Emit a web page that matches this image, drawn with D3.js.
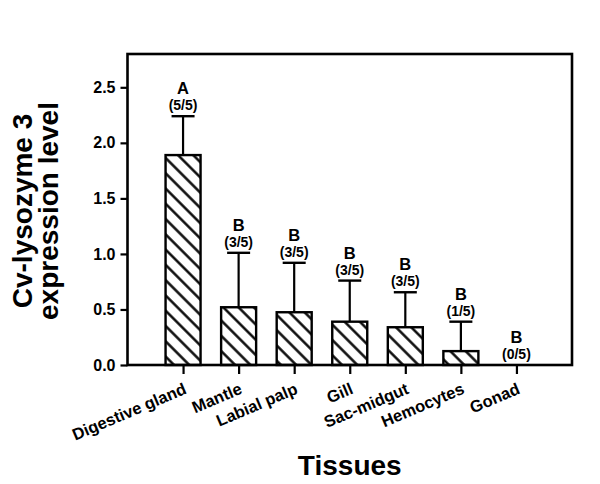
<!DOCTYPE html>
<html lang='en'>
<head>
  <meta charset='UTF-8'>
  <title>Cv-lysozyme 3 expression</title>
  <script src='https://d3js.org/d3.v7.min.js'></script>
  <style>
    body { margin: 0; background: #fff; }
    svg { display: block; font-family: Arial, 'Liberation Sans', sans-serif; font-weight: bold; }
  </style>
</head>
<body>
<svg width='600' height='484'></svg>
<script>
// values
const tissues = ['Digestive gland', 'Mantle', 'Labial palp', 'Gill', 'Sac-midgut', 'Hemocytes', 'Gonad']
const means = [1.89, 0.52, 0.475, 0.39, 0.34, 0.125, 0]
const errTop = [2.24, 1.01, 0.92, 0.76, 0.655, 0.39, 0]
const groups = ['A', 'B', 'B', 'B', 'B', 'B', 'B']
const counts = ['(5/5)', '(3/5)', '(3/5)', '(3/5)', '(3/5)', '(1/5)', '(0/5)']
const yTicks = [0, 0.5, 1.0, 1.5, 2.0, 2.5]

const rows = tissues.map((t, i) => ({ t, m: means[i], e: errTop[i], g: groups[i], c: counts[i] }))

const svg = d3.select('svg')
const L = 127.5, R = 572, T = 54, B = 365

const x = d3.scalePoint().domain(tissues).range([L, R]).padding(1)
const y = d3.scaleLinear().domain([0, 2.8]).range([B, T])
const barW = 35
const hs = 10.8 // hatch spacing

// hatch fill, lines running top-left to bottom-right
svg.append('defs').append('pattern')
    .attr('id', 'hatch')
    .attr('patternUnits', 'userSpaceOnUse')
    .attr('width', hs).attr('height', hs)
    .attr('patternTransform', 'rotate(-45)')
  .append('line')
    .attr('x1', hs / 2).attr('y1', 0).attr('x2', hs / 2).attr('y2', hs)
    .attr('stroke', '#000').attr('stroke-width', 2.4)

// error bars (upper only)
const eb = svg.append('g').selectAll('g').data(rows.filter(d => d.e > d.m)).enter().append('g')
eb.append('line')
    .attr('x1', d => x(d.t)).attr('x2', d => x(d.t))
    .attr('y1', d => y(d.m)).attr('y2', d => y(d.e))
    .attr('stroke', '#000').attr('stroke-width', 2.2)
eb.append('line')
    .attr('x1', d => x(d.t) - 11.5).attr('x2', d => x(d.t) + 11.5)
    .attr('y1', d => y(d.e)).attr('y2', d => y(d.e))
    .attr('stroke', '#000').attr('stroke-width', 2.4)

// bars
svg.append('g').selectAll('rect').data(rows.filter(d => d.m > 0)).enter().append('rect')
    .attr('x', d => x(d.t) - barW / 2)
    .attr('y', d => y(d.m))
    .attr('width', barW)
    .attr('height', d => B - y(d.m))
    .attr('fill', 'url(#hatch)')
    .attr('stroke', '#000').attr('stroke-width', 2.4)

// group letters and counts above the error caps
const lab = svg.append('g').attr('text-anchor', 'middle')
lab.selectAll('text.grp').data(rows).enter().append('text')
    .attr('class', 'grp')
    .attr('x', d => x(d.t)).attr('y', d => y(d.e) - 22)
    .attr('font-size', 16.5)
    .text(d => d.g)
lab.selectAll('text.cnt').data(rows).enter().append('text')
    .attr('class', 'cnt')
    .attr('x', d => x(d.t)).attr('y', d => y(d.e) - 6)
    .attr('font-size', 14)
    .text(d => d.c)

// frame
svg.append('rect')
    .attr('x', L).attr('y', T).attr('width', R - L).attr('height', B - T)
    .attr('fill', 'none').attr('stroke', '#000').attr('stroke-width', 2.6)

// y axis
const yAxis = svg.append('g')
    .attr('transform', `translate(${L},0)`)
    .call(d3.axisLeft(y).tickValues(yTicks).tickFormat(d3.format('.1f')).tickSize(7).tickPadding(5))
yAxis.select('.domain').remove()
yAxis.selectAll('line').attr('stroke-width', 2.2)
yAxis.selectAll('text').attr('font-size', 16).attr('font-family', null).attr('font-weight', 'bold')

// x axis ticks + slanted labels
const xAxis = svg.append('g')
    .attr('transform', `translate(0,${B})`)
    .call(d3.axisBottom(x).tickSize(9).tickSizeOuter(0))
xAxis.select('.domain').remove()
xAxis.selectAll('line').attr('stroke-width', 2.2)
xAxis.selectAll('text')
    .attr('font-size', 16.5).attr('font-family', null).attr('font-weight', 'bold')
    .attr('text-anchor', 'end')
    .attr('dy', null)
    .attr('y', 0)
    .attr('transform', 'translate(4,28) rotate(-23)')

// axis titles
const yt = svg.append('text')
    .attr('transform', `translate(0,211) rotate(-90)`)
    .attr('text-anchor', 'middle')
    .attr('font-size', 28)
yt.append('tspan').attr('x', 0).attr('y', 32).text('Cv-lysozyme 3')
yt.append('tspan').attr('x', 0).attr('y', 58).text('expression level')

svg.append('text')
    .attr('x', (L + R) / 2).attr('y', 475)
    .attr('text-anchor', 'middle')
    .attr('font-size', 28)
    .text('Tissues')
</script>
</body>
</html>
